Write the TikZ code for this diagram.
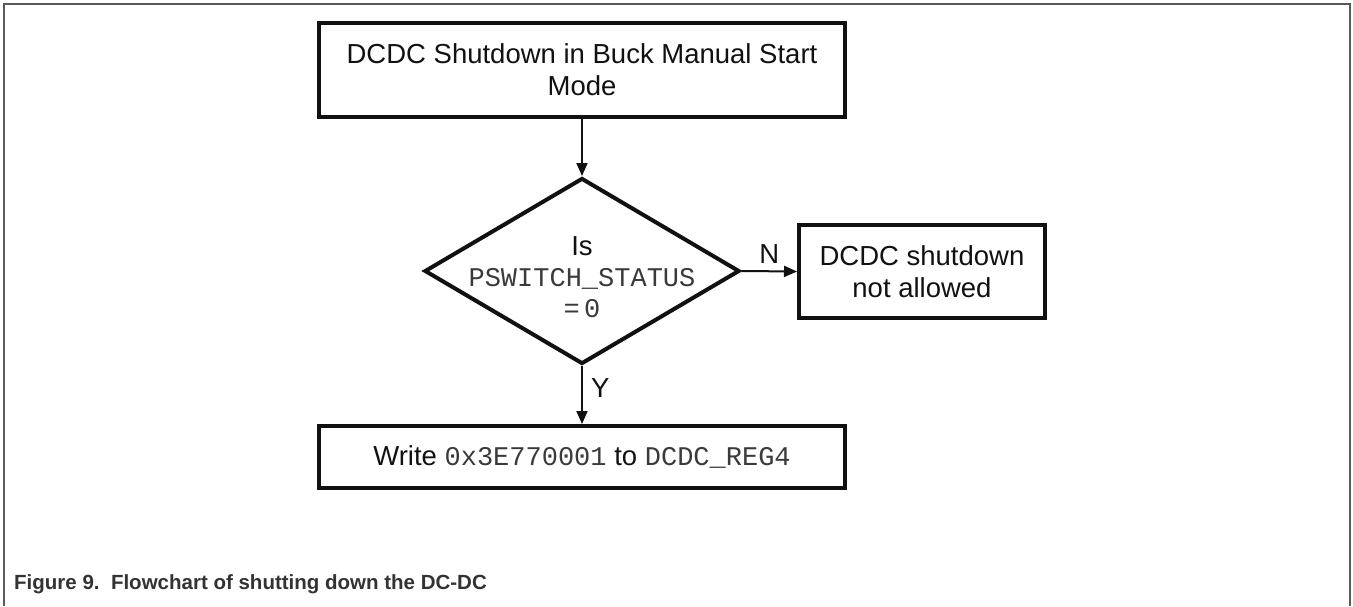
\documentclass[tikz,border=0pt]{standalone}
\usepackage{fontspec}
\setmainfont{Liberation Sans}
\newfontfamily\mono{Liberation Mono}
\usetikzlibrary{shapes.geometric,arrows.meta}
\definecolor{frame}{HTML}{5A5A5A}
\definecolor{ink}{HTML}{111111}
\definecolor{monoink}{HTML}{3A3A3A}
\definecolor{capt}{HTML}{333333}
\newcommand{\code}[1]{{\mono\fontsize{27}{31}\selectfont\color{monoink}#1}}
\tikzset{
  box/.style={draw=ink, line width=4pt, rectangle, inner sep=0pt, align=center,
    text=ink, font=\fontsize{27.5}{32}\selectfont},
  decision/.style={draw=ink, line width=4pt, diamond, inner sep=0pt},
  plain/.style={inner sep=0pt, align=center, text=ink, font=\fontsize{27.5}{31}\selectfont},
  flow/.style={draw=ink, line width=2pt, -{Triangle[length=13pt,width=11pt]}},
  lbl/.style={text=ink, font=\fontsize{27.5}{32}\selectfont, inner sep=0pt},
}
\begin{document}
\begin{tikzpicture}[x=1pt,y=-1pt]
\useasboundingbox (0,0) rectangle (1353,606);
% outer frame
\draw[frame, line width=2.5pt] (4,606) -- (4,4) -- (1350,4) -- (1350,606);
% nodes
\node[box, minimum width=526pt, minimum height=94pt] (top) at (582,70)
  {DCDC Shutdown in Buck Manual Start\\Mode};
\node[decision, minimum width=315pt, minimum height=186pt] (dec) at (582,271) {};
\node[plain] (dectext) at (582,277)
  {Is\\\code{PSWITCH\_STATUS}\\\code{=\,0}};
\node[box, minimum width=246pt, minimum height=93pt] (no) at (922,271.5)
  {DCDC shutdown\\not allowed};
\node[box, minimum width=526pt, minimum height=62pt] (wr) at (582,457)
  {Write \code{0x3E770001} to \code{DCDC\_REG4}};
% connectors
\draw[flow] (top.south) -- (dec.north);
\draw[flow] (dec.east) -- node[lbl, above=7pt] (n) {N} (no.west);
\draw[flow] (dec.south) -- node[lbl, pos=0.38, right=8pt] (y) {Y} (wr.north);
% caption
\node[anchor=base west, inner sep=0pt, text=capt, font=\bfseries\fontsize{20.5}{24}\selectfont] (cap) at (14,589)
  {Figure 9.\ \ Flowchart of shutting down the DC-DC};
\end{tikzpicture}
\end{document}
